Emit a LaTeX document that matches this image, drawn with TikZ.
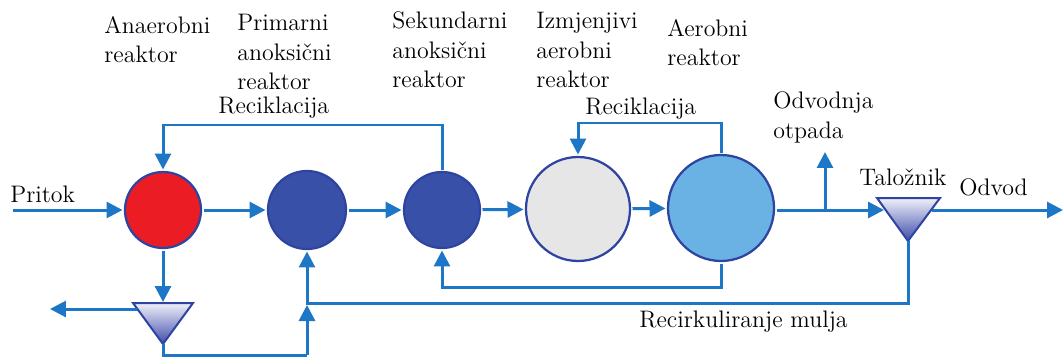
\documentclass[tikz,border=0pt]{standalone}
\usetikzlibrary{arrows.meta,calc}
\definecolor{flow}{RGB}{30,118,198}
\definecolor{rred}{RGB}{236,28,36}
\definecolor{rdark}{RGB}{57,80,168}
\definecolor{rgray}{RGB}{230,230,230}
\definecolor{rlight}{RGB}{106,178,228}
\definecolor{rborder}{RGB}{46,68,160}
\definecolor{tritop}{RGB}{240,240,250}
\definecolor{tribot}{RGB}{62,76,170}
\tikzset{
  arr/.style={draw=flow, line width=0.06cm, -{Triangle[length=0.32cm,width=0.32cm]}},
  pipe/.style={draw=flow, line width=0.06cm},
  reactor/.style={circle, draw=rborder, line width=0.045cm, inner sep=0pt, outer sep=0.05cm},
  lbl/.style={font=\rmfamily\fontsize{13.6pt}{17pt}\selectfont, align=left, inner sep=0pt, anchor=base west, text=black},
  tank/.style={top color=tritop, bottom color=tribot, draw=rborder, line width=0.04cm, line join=miter}
}
\begin{document}
\begin{tikzpicture}[x=0.02cm,y=-0.02cm]
\useasboundingbox (0,0) rectangle (1064,358);
% reactors
\node[reactor, fill=rred, minimum size=76*0.02cm] (r1) at (163,210) {};
\node[reactor, fill=rdark, minimum size=78*0.02cm] (r2) at (307,210) {};
\node[reactor, fill=rdark, minimum size=76*0.02cm] (r3) at (442,210) {};
\node[reactor, fill=rgray, minimum size=104*0.02cm] (r4) at (578,209) {};
\node[reactor, fill=rlight, minimum size=106*0.02cm] (r5) at (721,208) {};
% settlers
\shade[tank] (877,198) -- (940,198) -- (908,241) -- cycle;
\coordinate (talTop) at (908,198);
\coordinate (talApex) at (908,241);
\coordinate (talL) at (884,210);
\coordinate (talR) at (932,210);
\shade[tank] (133,303) -- (193,303) -- (163,344) -- cycle;
\coordinate (tTop) at (163,302);
\coordinate (tApex) at (163,344);
\coordinate (tL) at (137,309);
% free ends
\coordinate (inflow) at (13,210);
\coordinate (outflow) at (1063,210);
\coordinate (waste) at (825,152);
\coordinate (branch) at (825,210);
\coordinate (leftout) at (50,309);
\coordinate (yrec) at (0,125);
\coordinate (yrec2) at (0,123);
\coordinate (yint) at (0,287);
\coordinate (ysl) at (0,303);
\coordinate (ybot) at (0,355);
% main flow
\draw[arr] (inflow) -- (r1);
\draw[arr] (r1) -- (r2);
\draw[arr] (r2) -- (r3);
\draw[arr] (r3) -- (r4);
\draw[arr] (r4) -- (r5);
\draw[arr] (r5.east |- talL) -- (talL);
\draw[arr] (talR) -- (outflow);
\draw[arr] (branch) -- (waste);
% recycles
\draw[arr] (r3.north) -- (r3.north |- yrec) -| (r1.north);
\draw[arr] (r5.north) -- (r5.north |- yrec2) -| (r4.north);
\draw[arr] (r5.south) -- (r5.south |- yint) -| (r3.south);
\draw[arr] (talApex) -- (talApex |- ysl) -| (r2.south);
% anaerobic settler
\draw[arr] (r1.south) -- (tTop);
\draw[arr] (tL) -- (leftout);
\draw[pipe] (tApex) -- (tApex |- ybot) -- (r2.south |- ybot);
\draw[arr] (r2.south |- ybot) -- ($(r2.south |- ysl)+(0,2)$);
% labels (anchored at the baseline of the last line)
\node[lbl] (l1) at (104,63) {Anaerobni\\reaktor};
\node[lbl] (l2) at (237,90) {Primarni\\anoksični\\reaktor};
\node[lbl] (l3) at (392,88) {Sekundarni\\anoksični\\reaktor};
\node[lbl] (l4) at (536,88) {Izmjenjivi\\aerobni\\reaktor};
\node[lbl] (l5) at (667,66) {Aerobni\\reaktor};
\node[lbl] (lr1) at (218,113) {Reciklacija};
\node[lbl] (lr2) at (585,114) {Reciklacija};
\node[lbl] (lw) at (773,138) {Odvodnja\\otpada};
\node[lbl] (lt) at (859,185) {Taložnik};
\node[lbl] (lo) at (959,195) {Odvod};
\node[lbl] (lp) at (10,202) {Pritok};
\node[lbl] (lm) at (639,327) {Recirkuliranje mulja};
\end{tikzpicture}
\end{document}
